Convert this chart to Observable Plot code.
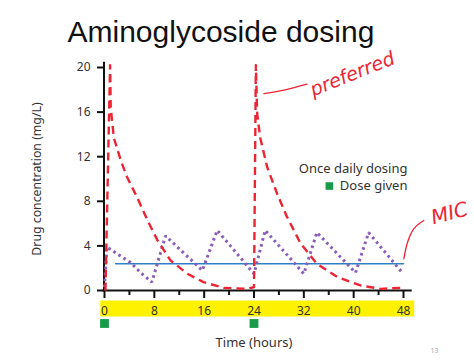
<!DOCTYPE html>
<html>
<head>
<meta charset="utf-8">
<script src="https://cdn.jsdelivr.net/npm/d3@7"></script>
<script src="https://cdn.jsdelivr.net/npm/@observablehq/plot@0.6"></script>
<style>
  html, body { margin: 0; padding: 0; background: #fff; }
</style>
</head>
<body>
<div id="chart"></div>
<script>
// ---- data ----
const title = "Aminoglycoside dosing";
const xLabel = "Time (hours)";
const yLabel = "Drug concentration (mg/L)";
const xTicks = [0, 8, 16, 24, 32, 40, 48];
const xMinorTicks = [4, 12, 20, 28, 36, 44];
const yTicks = [0, 4, 8, 12, 16, 20];
const doseTimes = [0, 24];

// Once daily dosing (red dashed)
const onceDailyHours = [0.15, 0.9, 1.0, 1.5, 2.6, 3.6, 5.2, 6.9, 8.5, 10.6, 13.3, 15.9, 19.1, 22.9, 24.0, 24.3, 24.5, 25.0, 26.1, 27.7, 29.3, 31.5, 34.1, 37.4, 41.1, 44.3, 47.5];
const onceDailyConc  = [0,    20.2, 16.4, 13.7, 11.7, 10.2, 8.4, 6.3, 4.5, 2.7, 1.5, 0.75, 0.24, 0.15, 0.3, 20.2, 15.9, 13.7, 11.1, 8.7, 6.6, 4.2, 2.4, 1.2, 0.45, 0.15, 0.24];

// Multiple daily dosing (purple dotted)
const multiHours = [0, 0.4, 2.0, 4.2, 5.8, 7.6, 9.8, 15.7, 18.1, 24.0, 25.8, 32.0, 34.1, 40.3, 42.4, 47.8];
const multiConc  = [0.3, 3.9, 3.3, 2.5, 1.6, 0.75, 4.9, 1.8, 5.4, 1.5, 5.4, 1.5, 5.2, 1.6, 5.2, 1.6];

// MIC (blue line)
const micHours = [1.8, 48];
const micConc = [2.4, 2.4];

// Legend / annotation texts
const legendTitle = "Once daily dosing";
const legendDose = "Dose given";
const notePreferred = "preferred";
const noteMIC = "MIC";
const pointerPreferred = [[25.6, 17.65], [29, 18.0], [32.5, 18.5]];
const pointerMIC = [[48.05, 2.84], [48.58, 4.19], [49.65, 5.53], [51.26, 6.28]];
const pageNumber = "13";

// ---- build tables ----
const onceDaily = onceDailyHours.map((t, i) => ({t, c: onceDailyConc[i]}));
const multi = multiHours.map((t, i) => ({t, c: multiConc[i]}));
const mic = micHours.map((t, i) => ({t, c: micConc[i]}));

const red = "#ec2535";
const font = "Noto Sans";

const chart = Plot.plot({
  width: 474,
  height: 360,
  marginLeft: 104,
  marginRight: 71,
  marginTop: 67,
  marginBottom: 70,
  style: {fontFamily: font, background: "#fff", overflow: "visible"},
  x: {domain: [0, 48]},
  y: {domain: [0, 20]},
  marks: [
    // yellow band behind x tick labels
    Plot.ruleY([0], {x1: -0.6, x2: 49.8, dy: 18, stroke: "#fff200", strokeWidth: 16}),
    // axes
    Plot.axisX({ticks: xTicks, tickSize: 0, tickPadding: 16, fontSize: 12, fill: "#333", label: null}),
    Plot.axisX({ticks: xTicks, tickSize: 8, text: null, strokeWidth: 2, stroke: "#111", label: null}),
    Plot.axisX({ticks: xMinorTicks, tickSize: 5, text: null, strokeWidth: 2, stroke: "#111", label: null}),
    Plot.axisY({ticks: yTicks, tickSize: 7, tickPadding: 7, fontSize: 12, fill: "#333", strokeWidth: 2, stroke: "#111", label: null}),
    Plot.ruleY([0], {x1: -0.25, x2: 49.4, stroke: "#111", strokeWidth: 2}),
    Plot.ruleX([0], {y1: -0.1, y2: 20.47, dx: -0.5, stroke: "#111", strokeWidth: 2}),
    // dose markers
    Plot.dot(doseTimes, {x: d => d, frameAnchor: "bottom", dy: 33, symbol: "square", r: 5, fill: "#1a9b4b", stroke: "none"}),
    // series
    Plot.line(mic, {x: "t", y: "c", stroke: "#2f7fc6", strokeWidth: 1.6}),
    Plot.line(multi, {x: "t", y: "c", stroke: "#8a5db8", strokeWidth: 3, strokeDasharray: "2.6,3.4", strokeLinecap: "butt", strokeLinejoin: "miter"}),
    Plot.line(onceDaily, {x: "t", y: "c", stroke: red, strokeWidth: 2.4, strokeDasharray: "8,5", strokeLinecap: "butt"}),
    // legend
    Plot.text([legendTitle], {x: 48.64, y: 10.94, text: d => d, textAnchor: "end", fontSize: 13, fill: "#333"}),
    Plot.text([legendDose], {x: 48.64, y: 9.42, text: d => d, textAnchor: "end", fontSize: 13, fill: "#333"}),
    Plot.dot([legendDose], {x: 36.1, y: 9.37, symbol: "square", r: 4.3, fill: "#1a9b4b", stroke: "none"}),
    // handwritten annotations
    Plot.line(pointerPreferred, {x: d => d[0], y: d => d[1], curve: "natural", stroke: red, strokeWidth: 1.3}),
    Plot.text([notePreferred], {x: 39.8, y: 19.4, text: d => d, rotate: -22, fontSize: 19, fontStyle: "italic", fontFamily: "DejaVu Sans", fontWeight: 200, fill: red}),
    Plot.line(pointerMIC, {x: d => d[0], y: d => d[1], curve: "natural", stroke: red, strokeWidth: 1.3}),
    Plot.text([noteMIC], {x: 55.4, y: 6.9, text: d => d, rotate: -15, fontSize: 20, fontStyle: "italic", fontFamily: "DejaVu Sans", fontWeight: 200, fill: red}),
    // axis titles
    Plot.text([xLabel], {frameAnchor: "bottom", lineAnchor: "middle", dy: 52, text: d => d, fontSize: 13, fill: "#333"}),
    Plot.text([yLabel], {frameAnchor: "left", textAnchor: "middle", lineAnchor: "middle", dx: -67, rotate: -90, text: d => d, fontSize: 12.3, fill: "#333"}),
    // title
    Plot.text([title], {frameAnchor: "top-left", textAnchor: "start", lineAnchor: "middle", dx: -37, dy: -35.6, text: d => d, fontSize: 30, fontFamily: "Liberation Sans", fill: "#111"}),
    // page number
    Plot.text([pageNumber], {frameAnchor: "bottom-right", dx: 35, dy: 62, text: d => d, fontSize: 7, fill: "#aaa"})
  ]
});
document.getElementById("chart").appendChild(chart);
</script>
</body>
</html>
